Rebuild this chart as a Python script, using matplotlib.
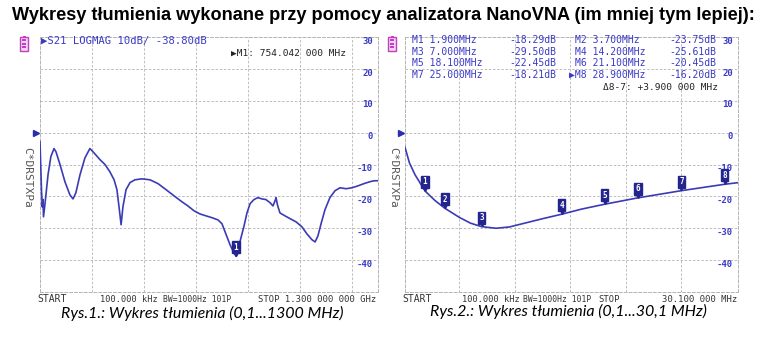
import matplotlib
matplotlib.use('Agg')
import matplotlib.pyplot as plt
from matplotlib.transforms import blended_transform_factory
from matplotlib.patches import Rectangle

W, H = 767, 337

# Rys.1 -- S21 LOGMAG, 0.1 ... 1300 MHz
f1 = [0.1, 5.8, 8.8, 11.5, 13.5, 19, 31, 42, 54, 61.5, 77, 96, 115, 127, 138, 154,
      173, 192, 204, 231, 250, 269, 285, 296, 304, 312, 319, 331, 346, 365, 392,
      423, 454, 485, 515, 546, 569, 592, 615, 638, 662, 685, 700, 715, 731, 745,
      754, 761, 773, 785, 796, 808, 823, 838, 854, 869, 885, 896, 904, 908, 913,
      923, 942, 962, 985, 1008, 1027, 1046, 1058, 1069, 1081, 1096, 1115, 1135,
      1154, 1177, 1200, 1223, 1246, 1269, 1285, 1300]
s1 = [-2.8, -17.9, -23.3, -21.0, -26.4, -22.6, -13.2, -7.5, -5.0, -6.0, -10.0, -15.4,
      -19.5, -20.8, -18.9, -13.2, -7.9, -5.0, -6.0, -8.5, -10.0, -12.3, -14.8, -17.9,
      -23.3, -28.9, -23.3, -17.9, -15.7, -14.8, -14.5, -14.8, -16.0, -17.9, -19.8,
      -21.7, -23.0, -24.5, -25.5, -26.1, -26.7, -27.4, -28.6, -31.8, -35.2, -37.6,
      -38.8, -36.8, -33.0, -29.2, -25.2, -22.3, -21.0, -20.4, -20.8, -21.0, -22.0,
      -23.0, -21.4, -20.4, -22.6, -25.2, -26.1, -27.0, -28.0, -29.6, -31.8, -33.6,
      -34.3, -32.4, -28.6, -24.2, -20.4, -18.2, -17.3, -17.6, -17.3, -16.7, -16.0,
      -15.4, -15.1, -15.1]
m1_freq = [754.042]
m1_db = [-38.8]

# Rys.2 -- 0.1 ... 30.1 MHz
f2 = [0.1, 0.5, 1.0, 1.9, 2.8, 3.7, 5.0, 6.0, 7.0, 8.3, 9.5, 11.0, 12.5, 14.2, 16.0,
      18.1, 21.1, 25.0, 28.9, 30.1]
s2 = [-4.6, -9.5, -13.2, -18.29, -21.3, -23.75, -26.6, -28.4, -29.5, -30.0, -29.6,
      -28.3, -27.0, -25.61, -24.0, -22.45, -20.45, -18.21, -16.2, -15.7]
m2_freq = [1.9, 3.7, 7.0, 14.2, 18.1, 21.1, 25.0, 28.9]
m2_db = [-18.29, -23.75, -29.50, -25.61, -22.45, -20.45, -18.21, -16.20]

scale_vals = [30, 20, 10, 0, -10, -20, -30, -40]

TRACE = '#3b3bb5'
LBL = '#3a3ac6'
GRID = '#b4b4b4'
MONO = 'DejaVu Sans Mono'
DARK = '#333333'

fig = plt.figure(figsize=(W / 100, H / 100), dpi=100)
fig.patch.set_facecolor('white')


def fx(px):
    return px / W


def fy(py):
    return 1 - py / H


def panel(x0, x1, fmin, fmax, step, freqs, vals):
    ax = fig.add_axes([fx(x0), fy(292), fx(x1 - x0), (292 - 37) / H])
    ax.set_xlim(fmin, fmax)
    ax.set_ylim(-50, 30)
    ax.set_xticks([])
    ax.set_yticks([])
    for sp in ax.spines.values():
        sp.set_color(GRID)
        sp.set_linestyle((0, (3, 2)))
        sp.set_linewidth(0.7)
    g = step
    while g < fmax - step * 0.2:
        ax.axvline(g, color=GRID, lw=0.6, ls=(0, (3, 2)))
        g += step
    for v in range(-40, 30, 10):
        ax.axhline(v, color=GRID, lw=0.6, ls=(0, (3, 2)))
    ax.plot(freqs, vals, color=TRACE, lw=1.2, zorder=3)
    tr = blended_transform_factory(ax.transAxes, ax.transData)
    ax.plot([-0.012], [0], marker='>', ms=5, color='#2c2cb0', transform=tr,
            clip_on=False)
    for v in scale_vals:
        ax.text(0.985, v - 1.3, str(v), transform=tr, ha='right', va='center',
                fontsize=6.5, color=LBL, family=MONO, fontweight='bold', zorder=5)
    return ax


def markers(ax, freqs, vals):
    for i, (f, v) in enumerate(zip(freqs, vals), start=1):
        ax.plot([f], [v + 1.0], marker='v', ms=4, color='#24248f', zorder=6,
                clip_on=False)
        ax.annotate(str(i), xy=(f, v), xytext=(0, 6.5), textcoords='offset points',
                    ha='center', va='center', fontsize=5.5, color='white',
                    fontweight='bold', family=MONO, zorder=7,
                    bbox=dict(boxstyle='square,pad=0.18', fc='#24248f', ec='#24248f'))


def battery(x, y):
    fig.patches.append(Rectangle((fx(x), fy(y + 15)), fx(8), 14 / H, transform=fig.transFigure,
                                 fc='#f4d8f4', ec='#c040c0', lw=1.0))
    fig.patches.append(Rectangle((fx(x + 2.5), fy(y + 1)), fx(3), 1.5 / H,
                                 transform=fig.transFigure, fc='#c040c0', ec='none'))
    for k in range(3):
        fig.patches.append(Rectangle((fx(x + 2), fy(y + 5 + k * 3.5)), fx(4), 1.8 / H,
                                     transform=fig.transFigure, fc='#c040c0', ec='none'))


ax1 = panel(40, 378, 0.1, 1300, 200, f1, s1)
markers(ax1, m1_freq, m1_db)
ax2 = panel(405, 738, 0.1, 30.1, 5, f2, s2)
markers(ax2, m2_freq, m2_db)

battery(20, 36)
battery(388, 36)

# title
fig.text(fx(383), fy(15), 'Wykresy tłumienia wykonane przy pomocy analizatora NanoVNA (im mniej tym lepiej):',
         ha='center', va='center', fontsize=13.1, fontweight='bold', family='Liberation Sans')

# left header
fig.text(fx(41), fy(41), '▶S21 LOGMAG 10dB/ -38.80dB', ha='left', va='center',
         fontsize=7.6, color=LBL, family=MONO)
fig.text(fx(346), fy(53), '▶M1: 754.042 000 MHz', ha='right', va='center',
         fontsize=6.8, color='#222222', family=MONO)

# right marker table
rows_l = [('M1 1.900MHz', '-18.29dB'), ('M3 7.000MHz', '-29.50dB'),
          ('M5 18.100MHz', '-22.45dB'), ('M7 25.000MHz', '-18.21dB')]
rows_r = [('M2 3.700MHz', '-23.75dB'), ('M4 14.200MHz', '-25.61dB'),
          ('M6 21.100MHz', '-20.45dB'), ('▶M8 28.900MHz', '-16.20dB')]
for k, ((a, b), (c, d)) in enumerate(zip(rows_l, rows_r)):
    y = 40 + k * 11.7
    fig.text(fx(412), fy(y), a, ha='left', va='center', fontsize=7, color=LBL, family=MONO)
    fig.text(fx(556), fy(y), b, ha='right', va='center', fontsize=7, color=LBL, family=MONO)
    fig.text(fx(569 if c.startswith('▶') else 575), fy(y), c, ha='left', va='center',
             fontsize=7, color=LBL, family=MONO)
    fig.text(fx(716), fy(y), d, ha='right', va='center', fontsize=7, color=LBL, family=MONO)
fig.text(fx(718), fy(88), 'Δ8-7: +3.900 000 MHz', ha='right', va='center',
         fontsize=6.8, color='#222222', family=MONO)

# side menu labels
for x in (27, 393):
    fig.text(fx(x), fy(177), 'C*DRSTXPa', ha='center', va='center', rotation=-90,
             fontsize=8, color='#555555', family=MONO)

# bottom status lines
bot = 299
fig.text(fx(37), fy(bot), 'START', ha='left', va='center', fontsize=7, color=DARK, family=MONO)
fig.text(fx(100), fy(bot), '100.000 kHz', ha='left', va='center', fontsize=6.2, color=DARK, family=MONO)
fig.text(fx(163), fy(bot), 'BW=1000Hz 101P', ha='left', va='center', fontsize=5.8, color=DARK, family=MONO)
fig.text(fx(376), fy(bot), 'STOP 1.300 000 000 GHz', ha='right', va='center', fontsize=6.4, color=DARK, family=MONO)
fig.text(fx(402), fy(bot), 'START', ha='left', va='center', fontsize=7, color=DARK, family=MONO)
fig.text(fx(462), fy(bot), '100.000 kHz', ha='left', va='center', fontsize=6.2, color=DARK, family=MONO)
fig.text(fx(523), fy(bot), 'BW=1000Hz 101P', ha='left', va='center', fontsize=5.8, color=DARK, family=MONO)
fig.text(fx(598), fy(bot), 'STOP', ha='left', va='center', fontsize=6.4, color=DARK, family=MONO)
fig.text(fx(737), fy(bot), '30.100 000 MHz', ha='right', va='center', fontsize=6.4, color=DARK, family=MONO)

# captions
fig.text(fx(202), fy(313), 'Rys.1.: Wykres tłumienia (0,1...1300 MHz)', ha='center', va='center',
         fontsize=11.5, style='italic', family='Lato')
fig.text(fx(568), fy(311), 'Rys.2.: Wykres tłumienia (0,1...30,1 MHz)', ha='center', va='center',
         fontsize=11.5, style='italic', family='Lato')

fig.savefig('out.png', dpi=100)
